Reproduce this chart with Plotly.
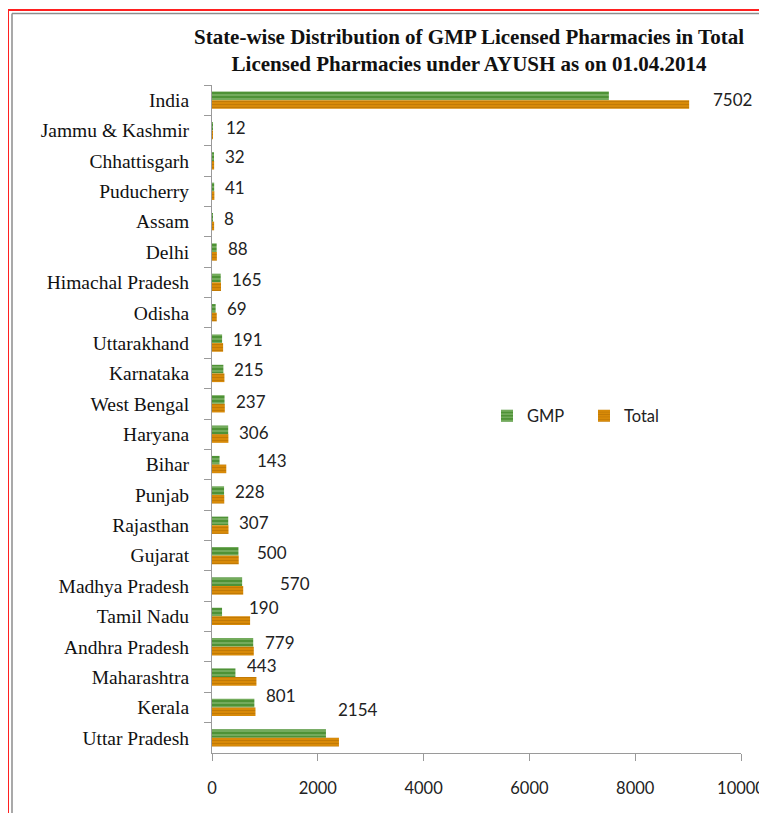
import plotly.graph_objects as go

# ---- data (top-to-bottom order as shown) ----
states = ["India", "Jammu & Kashmir", "Chhattisgarh", "Puducherry", "Assam", "Delhi",
          "Himachal Pradesh", "Odisha", "Uttarakhand", "Karnataka", "West Bengal",
          "Haryana", "Bihar", "Punjab", "Rajasthan", "Gujarat", "Madhya Pradesh",
          "Tamil Nadu", "Andhra Pradesh", "Maharashtra", "Kerala", "Uttar Pradesh"]
gmp = [7502, 12, 32, 41, 8, 88, 165, 69, 191, 215, 237, 306, 143, 228, 307, 500,
       570, 190, 779, 443, 801, 2154]
total = [9020, 15, 40, 45, 40, 92, 170, 90, 210, 235, 242, 310, 270, 232, 312, 505,
         590, 720, 790, 840, 822, 2400]
x_ticks = [0, 2000, 4000, 6000, 8000, 10000]

# label nudges (pixels) for the value labels, as placed in the original
label_dx = [104, 13, 11, 11, 12, 11, 11, 11, 11, 11, 11, 11, 37, 11, 11, 19, 38, 27, 12, 12, 12, 12]
label_dy = [1, 3, 4, 4, 3, 4, 3, 4, 4, 4, 2, 2, 4, 3, 3, 3, 3, 9, 4, 12, 12, 28]

title_text = ("State-wise Distribution of GMP Licensed Pharmacies in Total<br>"
              "Licensed Pharmacies under AYUSH as on 01.04.2014")

OFF = 8  # page body margin
SW, SH = 767, 813
W, H = SW - OFF, SH - OFF
# plot area in screen pixels: x 212..741, y 85..753
L, R, T, B = 212 - OFF, SW - 741, 85 - OFF, SH - 753
pw, ph = W - L - R, H - T - B


def px(xs):
    return (xs - OFF - L) / pw


def py(ys):
    return (H - B - (ys - OFF)) / ph


fig = go.Figure()
fig.add_trace(go.Bar(
    name="GMP", y=states, x=gmp, orientation="h",
    marker=dict(color="#4E9236", line=dict(width=0),
                pattern=dict(shape="-", fgcolor="#B7DAA2", size=4, solidity=0.35)),
))
fig.add_trace(go.Bar(
    name="Total", y=states, x=total, orientation="h",
    marker=dict(color="#D88A08", line=dict(width=0),
                pattern=dict(shape="-", fgcolor="#9E6000", size=3, solidity=0.25)),
))

for s, g, dx, dy in zip(states, gmp, label_dx, label_dy):
    fig.add_annotation(x=g, y=s, text=str(g), showarrow=False, xanchor="left",
                       yanchor="middle", xshift=dx - 2, yshift=dy,
                       font=dict(family="Lato", size=17, color="#222222"))

frame_font = "Liberation Serif"
shapes = [
    dict(type="line", xref="paper", yref="paper", x0=px(8), x1=px(790), y0=py(10), y1=py(10),
         line=dict(color="#FF2020", width=2)),
    dict(type="line", xref="paper", yref="paper", x0=px(8), x1=px(8), y0=py(10), y1=py(840),
         line=dict(color="#FF2020", width=2)),
    dict(type="line", xref="paper", yref="paper", x0=px(12), x1=px(790), y0=py(13.5), y1=py(13.5),
         line=dict(color="#8C8C8C", width=1.5)),
    dict(type="line", xref="paper", yref="paper", x0=px(12), x1=px(12), y0=py(13.5), y1=py(840),
         line=dict(color="#8C8C8C", width=1.5)),
]

fig.update_layout(
    width=W, height=H,
    margin=dict(l=L, r=R, t=T, b=B, autoexpand=False),
    paper_bgcolor="white", plot_bgcolor="white",
    barmode="group", bargap=0.43, bargroupgap=0,
    title=dict(text=title_text, x=(469 - OFF) / W, xanchor="center", xref="container",
               y=1 - (44 - OFF) / H, yanchor="middle", yref="container",
               font=dict(family=frame_font, size=21, color="#111111", weight="bold")),
    showlegend=True,
    legend=dict(orientation="h", x=px(487), y=py(416), xanchor="left", yanchor="middle",
                font=dict(family="Lato", size=16.5, color="#222222"),
                bgcolor="rgba(0,0,0,0)", entrywidth=52, entrywidthmode="pixels"),
    shapes=shapes,
)

fig.update_yaxes(
    type="category", range=[len(states) - 0.5, -0.5],
    showline=True, linecolor="#9A9A9A", linewidth=1,
    ticks="outside", tickson="boundaries", ticklen=7, tickcolor="#9A9A9A",
    showgrid=False, zeroline=False,
    ticklabelstandoff=18,
    tickfont=dict(family=frame_font, size=19.5, color="#111111"),
)
fig.update_xaxes(
    range=[0, 10000], tickvals=x_ticks, ticktext=[str(v) for v in x_ticks],
    showline=True, linecolor="#9A9A9A", linewidth=1,
    ticks="outside", ticklen=7, tickcolor="#9A9A9A",
    showgrid=False, zeroline=False,
    ticklabelstandoff=13,
    tickfont=dict(family="Lato", size=16.5, color="#222222"),
)

fig.write_html("out.html")
